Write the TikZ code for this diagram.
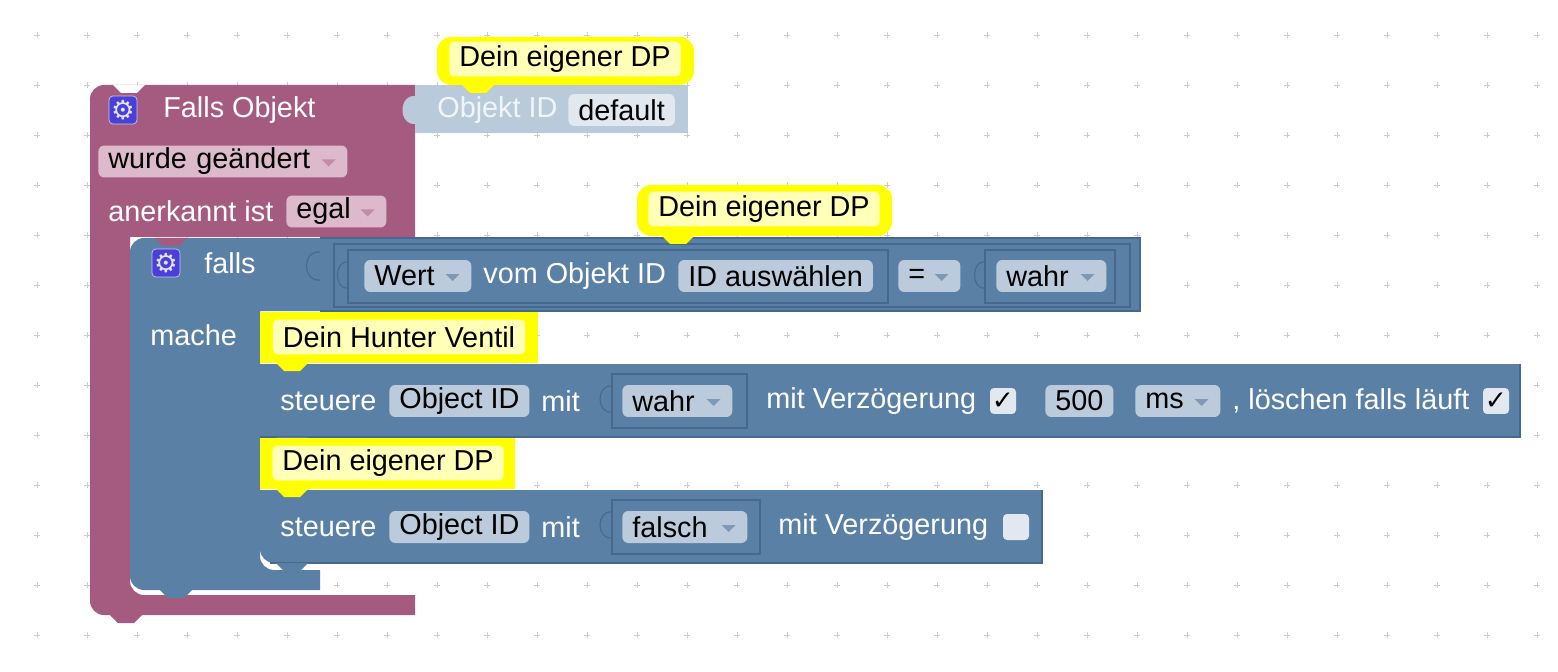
\documentclass[tikz,border=0pt]{standalone}
\usepackage{fontspec}
\setmainfont{Liberation Sans}
\newfontfamily\symfont{DejaVu Sans}
\usepackage{xcolor}
\definecolor{purpleB}{HTML}{A55B80}
\definecolor{pinkP}{HTML}{DCBACB}
\definecolor{blueB}{HTML}{5B80A5}
\definecolor{blueD}{HTML}{46688C}
\definecolor{pillB}{HTML}{BCCBDC}
\definecolor{objB}{HTML}{B9CBDB}
\definecolor{objP}{HTML}{E1E8F0}
\definecolor{yel}{HTML}{FFFF00}
\definecolor{yelIn}{HTML}{FFFFB8}
\definecolor{gearB}{HTML}{4A3FD6}
\definecolor{gridC}{HTML}{CCCCCC}

\newcommand\ddarrow[2]{\fill[#2] ([shift={(-26,-2)}]#1.east) -- ++(14,0) -- ++(-7,7) -- cycle;}
\newcommand\tabdown[3]{\fill[#3] (#1,#2) -- ++(8,8) -- ++(16,0) -- ++(8,-8) -- cycle;}

\begin{document}
\begin{tikzpicture}[x=0.02cm, y=-0.02cm,
  txtW/.style={anchor=west, inner sep=0, text=white, font=\fontsize{16.4}{19}\selectfont},
  pill/.style={anchor=west, rounded corners=0.12cm, inner xsep=0.2cm, inner ysep=0, minimum height=0.64cm, align=left, font=\fontsize{16.4}{19}\selectfont},
  gear/.style={fill=gearB, draw=white!70!gearB, rounded corners=0.08cm, minimum size=0.56cm, inner sep=0, text=white!85!gearB, font=\symfont\fontsize{15}{15}\selectfont},
  chk/.style={fill=objP, rounded corners=0.08cm, minimum size=0.52cm, inner sep=0, font=\symfont\fontsize{15}{15}\selectfont},
  cmt/.style={fill=yelIn, rounded corners=0.1cm, inner xsep=0.2cm, inner ysep=0, minimum height=0.7cm, font=\fontsize{16.4}{19}\selectfont},
  hole/.style={fill=blueB, draw=blueD, line width=0.6pt}]

\useasboundingbox (0,0) rectangle (1558,672);

% grid
\foreach \gx in {37,87,...,1537}
  \foreach \gy in {35,85,...,635}
    \draw[gridC, line width=0.5pt] (\gx-3,\gy) -- (\gx+3,\gy) (\gx,\gy-3) -- (\gx,\gy+3);

% event block
\fill[purpleB] (415,85) -- (415,237) -- (130,237) [rounded corners=8] -- (130,595) [sharp corners] -- (415,595) -- (415,615) [rounded corners=8] -- (90,615) -- (90,85) [sharp corners] -- cycle;
\fill[white] (113,85) -- ++(8,8) -- ++(16,0) -- ++(8,-8) -- cycle;
\tabdown{110}{615}{purpleB}

% object id block
\fill[objB] (415,85) rectangle (688,133);
\fill[objB] (416,96) .. controls (398,94) and (398,126) .. (416,124) -- cycle;
\node[gear] (g1) at (123,110) {⚙};
\node[txtW] (fo) at (163,110) {Falls Objekt};
\node[txtW, text=white!80!objB] (oid) at (437,110) {Objekt ID};
\node[pill, fill=objP] (dflt) at (568,110) {default};
\node[pill, fill=pinkP, text width=4.58cm] (wg) at (98,161.5) {wurde geändert};
\ddarrow{wg}{purpleB!70!white}
\node[txtW] (ak) at (108,211.5) {anerkannt ist};
\node[pill, fill=pinkP, text width=1.6cm] (egal) at (286,211.5) {egal};
\ddarrow{egal}{purpleB!70!white}

% if block
\fill[blueB] (320,238) -- (320,311) -- (260,311) [rounded corners=8] -- (260,570) [sharp corners] -- (320,570) -- (320,590) [rounded corners=8] -- (130,590) -- (130,238) [sharp corners] -- cycle;
\tabdown{155}{238}{purpleB}
\tabdown{160}{590}{blueB}
\node[gear] (g2) at (166,263) {⚙};
\node[txtW] (fl) at (204,263) {falls};
\node[txtW] (mc) at (150,335) {mache};

% condition
\fill[blueB] (320,238) rectangle (1140,311);
\draw[blueD, line width=0.6pt] (320,238) -- (1140,238) -- (1140,311) -- (320,311);
\draw[blueD, line width=0.6pt] (320,252) .. controls (302,250) and (302,282) .. (320,280);
\draw[hole] (334,244) rectangle (1130,307);
\draw[hole] (348,250) rectangle (888,303);
\draw[blueD, line width=0.6pt] (348,262) .. controls (334,260) and (334,290) .. (348,288);
\node[pill, fill=pillB, text width=1.74cm] (wert) at (364,276) {Wert};
\ddarrow{wert}{blueB!80!white}
\node[txtW] (vom) at (483,276) {vom Objekt ID};
\node[pill, fill=pillB] (ida) at (678,276) {ID auswählen};
\node[pill, fill=pillB, text width=0.84cm] (eq) at (898,276) {=};
\ddarrow{eq}{blueB!80!white}
\draw[hole] (985,250) rectangle (1115,303);
\draw[blueD, line width=0.6pt] (985,262) .. controls (971,260) and (971,290) .. (985,288);
\node[pill, fill=pillB, text width=1.8cm] (wc) at (996,276) {wahr};
\ddarrow{wc}{blueB!80!white}

% statement 1
\fill[blueB] (260,364) rectangle (1520,437);
\draw[blueD, line width=0.6pt] (260,437) -- (1520,437) -- (1520,364);
\tabdown{276}{437}{blueB}
\node[txtW] (st1) at (280,401) {steuere};
\node[pill, fill=pillB] (oi1) at (389,401) {Object ID};
\node[txtW] (mit1) at (541,401) {mit};
\draw[hole] (612,374) rectangle (747,428);
\draw[blueD, line width=0.6pt] (612,386) .. controls (596,384) and (596,414) .. (612,412);
\node[pill, fill=pillB, text width=1.8cm] (w1) at (622,401) {wahr};
\ddarrow{w1}{blueB!80!white}
\node[txtW] (mv1) at (766,401) {mit Verzögerung};
\node[chk] (ck1) at (1003,401) {✓};
\node[pill, fill=pillB, minimum width=1.36cm, align=center] (ms5) at (1045,401) {500};
\node[pill, fill=pillB, text width=1.3cm] (ms) at (1135,401) {ms};
\ddarrow{ms}{blueB!80!white}
\node[txtW] (lf) at (1232,401) {, löschen falls läuft};
\node[chk] (ck2) at (1496,401) {✓};

% statement 2
\fill[blueB] (1042,490) -- (1042,563) [rounded corners=8] -- (260,563) [sharp corners] -- (260,490) -- cycle;
\draw[blueD, line width=0.6pt] (270,563) -- (1042,563) -- (1042,490);
\tabdown{276}{563}{blueB}
\node[txtW] (st2) at (280,527) {steuere};
\node[pill, fill=pillB] (oi2) at (389,527) {Object ID};
\node[txtW] (mit2) at (541,527) {mit};
\draw[hole] (612,500) rectangle (760,554);
\draw[blueD, line width=0.6pt] (612,512) .. controls (596,510) and (596,540) .. (612,538);
\node[pill, fill=pillB, text width=2.1cm] (fa) at (622,527) {falsch};
\ddarrow{fa}{blueB!80!white}
\node[txtW] (mv2) at (778,527) {mit Verzögerung};
\node[chk] (ck3) at (1016,527) {};

% comments
\fill[yel, rounded corners=8] (437,37) rectangle (694,85);
\tabdown{462}{85}{yel}
\node[cmt] (c1) at (565,59) {Dein eigener DP};
\fill[yel, rounded corners=8] (637,185) rectangle (892,236);
\tabdown{662}{236}{yel}
\node[cmt] (c2) at (764,209) {Dein eigener DP};
\fill[yel] (260,312) rectangle (538,363);
\tabdown{276}{363}{yel}
\node[cmt] (c3) at (399,337) {Dein Hunter Ventil};
\fill[yel] (260,438) rectangle (515,489);
\tabdown{276}{489}{yel}
\node[cmt] (c4) at (388,463) {Dein eigener DP};
\end{tikzpicture}
\end{document}
